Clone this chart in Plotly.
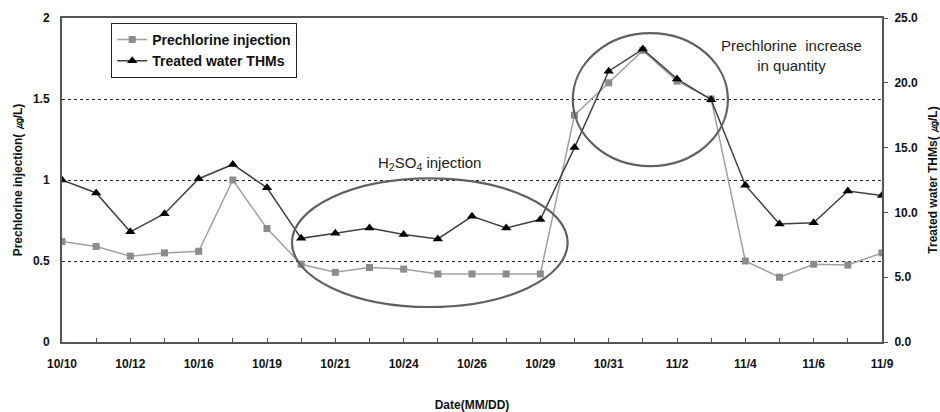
import plotly.graph_objects as go

tick_labels = ["10/10", "10/12", "10/16", "10/19", "10/21", "10/24", "10/26",
               "10/29", "10/31", "11/2", "11/4", "11/6", "11/9"]
n_points = 25
idx = list(range(n_points))
tick_idx = list(range(0, n_points, 2))

prechlorine = [0.62, 0.59, 0.53, 0.55, 0.56, 1.00, 0.70, 0.48, 0.43, 0.46, 0.45,
               0.42, 0.42, 0.42, 0.42, 1.40, 1.60, 1.80, 1.61, 1.50, 0.50, 0.40,
               0.48, 0.475, 0.55]
thms = [12.5, 11.5, 8.5, 9.9, 12.6, 13.7, 11.9, 8.0, 8.4, 8.8, 8.3, 7.95, 9.7,
        8.8, 9.45, 15.0, 20.9, 22.6, 20.3, 18.7, 12.1, 9.1, 9.2, 11.65, 11.3]

FONT = "Liberation Sans, Arial, sans-serif"
NARROW = "Liberation Sans Narrow, Arial Narrow, Liberation Sans, Arial, sans-serif"

fig = go.Figure()
fig.add_trace(go.Scatter(
    x=idx, y=prechlorine, name="Prechlorine injection", mode="lines+markers",
    line=dict(color="#a0a0a0", width=1.5),
    marker=dict(symbol="square", size=7, color="#8c8c8c"),
    yaxis="y"))
fig.add_trace(go.Scatter(
    x=idx, y=thms, name="Treated water THMs", mode="lines+markers",
    line=dict(color="#404040", width=1.5),
    marker=dict(symbol="triangle-up", size=9, color="#000000"),
    yaxis="y2"))

# ellipses
fig.add_shape(type="circle", xref="x", yref="y", x0=6.73, x1=14.8, y0=0.216, y1=1.01,
              line=dict(color="#606060", width=2.2))
fig.add_shape(type="circle", xref="x", yref="y", x0=14.95, x1=19.49, y0=1.086, y1=1.907,
              line=dict(color="#606060", width=2.2))

fig.add_annotation(x=10.75, y=1.1, xref="x", yref="y", text="H<sub>2</sub>SO<sub>4</sub> injection",
                   showarrow=False, font=dict(family=FONT, size=15, color="#222"))
fig.add_annotation(x=21.35, y=1.77, xref="x", yref="y", text="Prechlorine  increase<br>in quantity",
                   showarrow=False, align="center",
                   font=dict(family=FONT, size=15, color="#222"))

fig.update_layout(
    width=940, height=412,
    margin=dict(l=62, r=58, t=18, b=70),
    paper_bgcolor="white", plot_bgcolor="white",
    font=dict(family=FONT, color="#111"),
    showlegend=True,
    legend=dict(x=0.06, y=0.985, xanchor="left", yanchor="top",
                bgcolor="white", bordercolor="#222", borderwidth=1,
                font=dict(family=FONT, size=14, weight="bold", color="#111"),
                tracegroupgap=2, itemwidth=30),
    xaxis=dict(range=[0, 24], tickvals=tick_idx, ticktext=tick_labels,
               showgrid=False, zeroline=False, automargin=False,
               showline=True, linecolor="#555", linewidth=2, mirror=True,
               ticks="inside", ticklen=4, tickcolor="#555",
               minor=dict(tickvals=idx, ticks="inside", ticklen=4, tickcolor="#555"),
               ticklabelstandoff=10,
               tickfont=dict(family=NARROW, size=12, weight="bold", color="#111"),
               title=dict(text="Date(MM/DD)", standoff=30,
                          font=dict(family=NARROW, size=12, weight="bold", color="#111"))),
    yaxis=dict(range=[0, 2], tickvals=[0, 0.5, 1, 1.5, 2], ticktext=["0", "0.5", "1", "1.5", "2"],
               showgrid=True, gridcolor="#222", griddash="dot", gridwidth=1,
               zeroline=False, showline=True, linecolor="#555", linewidth=2, automargin=False,
               ticks="", ticklabelstandoff=8,
               tickfont=dict(family=FONT, size=12, weight="bold", color="#111"),
               title=dict(text="Prechlorine injection( ㎍/L)", standoff=8,
                          font=dict(family=FONT, size=12, weight="bold", color="#111"))),
    yaxis2=dict(range=[0, 25], tickvals=[0, 5, 10, 15, 20, 25], tickformat=".1f",
                overlaying="y", side="right", showgrid=False, zeroline=False,
                showline=True, linecolor="#555", linewidth=2, automargin=False,
                ticks="outside", ticklen=4, tickcolor="#555", ticklabelstandoff=4,
                tickfont=dict(family=FONT, size=12, weight="bold", color="#111"),
                title=dict(text="Treated water THMs( ㎍/L)", standoff=12,
                           font=dict(family=FONT, size=12, weight="bold", color="#111"))),
)

fig.write_html("out.html")
